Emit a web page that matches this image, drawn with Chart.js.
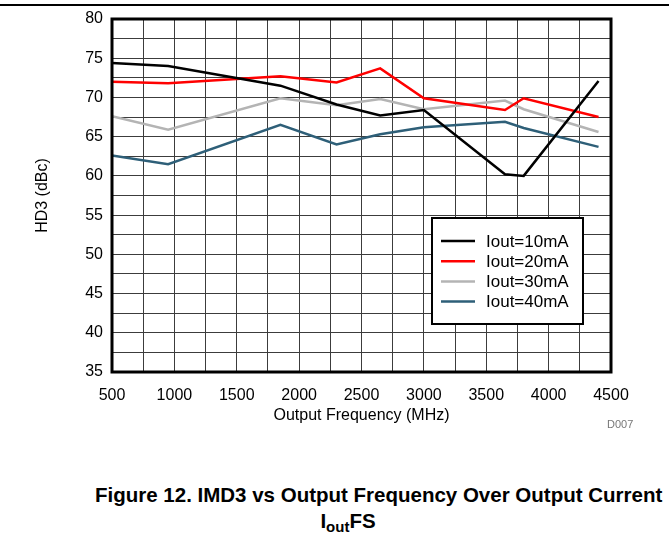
<!DOCTYPE html>
<html>
<head>
<meta charset="utf-8">
<script src="https://cdn.jsdelivr.net/npm/chart.js@4.4.1/dist/chart.umd.min.js"></script>
<style>
  html, body { margin:0; padding:0; background:#fff; }
  body { width:669px; height:539px; position:relative; overflow:hidden; font-family:"Liberation Sans", Arial, sans-serif; }
  #topRule { position:absolute; left:0; top:4px; width:669px; height:2px; background:#000; }
  #wrap { position:absolute; left:0; top:0; width:669px; height:440px; }
  #tag { position:absolute; left:607px; top:418px; font-size:11px; color:#777; }
  .cap { position:absolute; left:0; font-weight:bold; font-size:20.5px; color:#000; white-space:nowrap; line-height:24px; }
  #cap1 { left:95px; top:483px; }
  #cap2 { left:0; width:696px; text-align:center; top:509px; }
  #cap2 sub { font-size:15px; vertical-align:-4px; line-height:0; }
</style>
</head>
<body>
<div id="topRule"></div>
<div id="wrap"><canvas id="chart"></canvas></div>
<div id="tag">D007</div>
<div class="cap" id="cap1">Figure 12. IMD3 vs Output Frequency Over Output Current</div>
<div class="cap" id="cap2">I<sub>out</sub>FS</div>
<script>
// output frequency (MHz) and HD3 (dBc) per full-scale current
const freqs  = [500, 950, 1850, 2300, 2650, 3000, 3650, 3800, 4400];
const iout10 = [74.4, 74.0, 71.5, 69.1, 67.7, 68.4, 60.2, 60.0, 72.1];
const iout20 = [72.0, 71.8, 72.7, 71.9, 73.7, 69.9, 68.4, 69.9, 67.5];
const iout30 = [67.6, 65.9, 69.9, 69.0, 69.8, 68.5, 69.6, 68.5, 65.6];
const iout40 = [62.6, 61.5, 66.5, 64.0, 65.3, 66.2, 66.9, 66.1, 63.7];
const seriesLabels = ['Iout=10mA', 'Iout=20mA', 'Iout=30mA', 'Iout=40mA'];
const seriesColors = ['#000000', '#ff0000', '#b4b4b4', '#2e5f78'];

const FONT = '"Liberation Sans", Arial, sans-serif';
const toPts = ys => ys.map((y, i) => ({ x: freqs[i], y }));

// frame + boxed legend inside the plot
const framePlugin = {
  id: 'frame',
  afterDatasetsDraw(chart) {
    const { ctx, chartArea: a } = chart;
    ctx.save();
    ctx.strokeStyle = '#000';
    ctx.lineWidth = 3;
    ctx.strokeRect(a.left, a.top, a.right - a.left, a.bottom - a.top);

    // legend box
    const bx = 432, by = 218, bw = 151, bh = 106;
    ctx.fillStyle = '#fff';
    ctx.fillRect(bx, by, bw, bh);
    ctx.lineWidth = 2;
    ctx.strokeRect(bx, by, bw, bh);
    ctx.font = '17px ' + FONT;
    ctx.textBaseline = 'middle';
    chart.data.datasets.forEach((ds, i) => {
      const y = by + 23 + i * 20.2;
      ctx.strokeStyle = ds.borderColor;
      ctx.lineWidth = 2.5;
      ctx.beginPath();
      ctx.moveTo(441, y);
      ctx.lineTo(475, y);
      ctx.stroke();
      ctx.fillStyle = '#000';
      ctx.fillText(ds.label, 486, y + 1);
    });
    ctx.restore();
  }
};

new Chart(document.getElementById('chart'), {
  type: 'line',
  data: {
    datasets: [iout10, iout20, iout30, iout40].map((ys, i) => ({
      label: seriesLabels[i],
      data: toPts(ys),
      borderColor: seriesColors[i],
      borderWidth: 2.5,
      pointRadius: 0,
      tension: 0,
      fill: false
    }))
  },
  options: {
    responsive: true,
    maintainAspectRatio: false,
    animation: false,
    layout: { padding: { left: 0, right: 58, top: 19, bottom: 0 } },
    plugins: { legend: { display: false }, tooltip: { enabled: false } },
    scales: {
      x: {
        type: 'linear', min: 500, max: 4500,
        afterFit: s => { s.height = 68; },
        grid: { color: '#3c3c3c', lineWidth: 1, drawTicks: false },
        border: { display: false },
        ticks: { stepSize: 250, autoSkip: false, maxRotation: 0, padding: 14, color: '#000',
          font: { family: FONT, size: 16 }, callback: v => v % 500 === 0 ? v : '' },
        title: { display: true, text: 'Output Frequency (MHz)', color: '#000',
          font: { family: FONT, size: 16 }, padding: { top: 0, bottom: 15 } }
      },
      y: {
        min: 35, max: 80,
        afterFit: s => { s.width = 112; },
        grid: { color: '#3c3c3c', lineWidth: 1, drawTicks: false },
        border: { display: false },
        ticks: { stepSize: 2.5, autoSkip: false, padding: 9, color: '#000',
          font: { family: FONT, size: 16 }, callback: v => v % 5 === 0 ? v : '' },
        title: { display: true, text: 'HD3 (dBc)', color: '#000',
          font: { family: FONT, size: 16 }, padding: { top: 33, bottom: 0 } }
      }
    }
  },
  plugins: [framePlugin]
});
</script>
</body>
</html>
